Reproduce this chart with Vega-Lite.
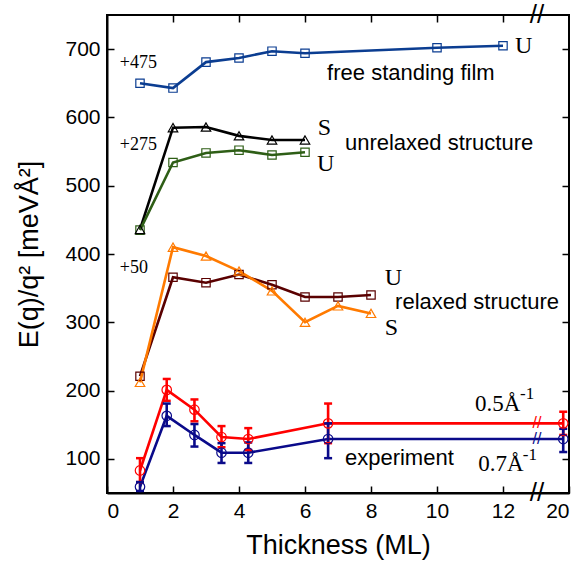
{
  "$schema": "https://vega.github.io/schema/vega-lite/v6.json",
  "width": 462,
  "height": 478,
  "autosize": "none",
  "padding": {"left": 107, "top": 15, "right": 13, "bottom": 73},
  "background": "white",
  "config": {
    "view": {"stroke": "black", "strokeWidth": 2},
    "font": "Liberation Sans",
    "axis": {"grid": false, "domainColor": "black", "domainWidth": 2, "tickColor": "black", "tickWidth": 1.5, "labelColor": "black", "titleColor": "black", "labelFont": "Liberation Sans", "titleFont": "Liberation Sans", "titleFontWeight": "normal"}
  },
  "datasets": {
    "curves": [
      {"series": "film", "x": 1, "y": 650},
      {"series": "film", "x": 2, "y": 643},
      {"series": "film", "x": 3, "y": 681},
      {"series": "film", "x": 4, "y": 687},
      {"series": "film", "x": 5, "y": 697},
      {"series": "film", "x": 6, "y": 694},
      {"series": "film", "x": 10, "y": 702},
      {"series": "film", "x": 12, "y": 705},
      {"series": "unrelS", "x": 1, "y": 436},
      {"series": "unrelS", "x": 2, "y": 585},
      {"series": "unrelS", "x": 3, "y": 586},
      {"series": "unrelS", "x": 4, "y": 573},
      {"series": "unrelS", "x": 5, "y": 567},
      {"series": "unrelS", "x": 6, "y": 567},
      {"series": "unrelU", "x": 1, "y": 435},
      {"series": "unrelU", "x": 2, "y": 534},
      {"series": "unrelU", "x": 3, "y": 548},
      {"series": "unrelU", "x": 4, "y": 552},
      {"series": "unrelU", "x": 5, "y": 545},
      {"series": "unrelU", "x": 6, "y": 549},
      {"series": "relU", "x": 1, "y": 221},
      {"series": "relU", "x": 2, "y": 366},
      {"series": "relU", "x": 3, "y": 358},
      {"series": "relU", "x": 4, "y": 370},
      {"series": "relU", "x": 5, "y": 355},
      {"series": "relU", "x": 6, "y": 337},
      {"series": "relU", "x": 7, "y": 337},
      {"series": "relU", "x": 8, "y": 340},
      {"series": "relS", "x": 1, "y": 212},
      {"series": "relS", "x": 2, "y": 410},
      {"series": "relS", "x": 3, "y": 397},
      {"series": "relS", "x": 4, "y": 375},
      {"series": "relS", "x": 5, "y": 346},
      {"series": "relS", "x": 6, "y": 300},
      {"series": "relS", "x": 7, "y": 324},
      {"series": "relS", "x": 8, "y": 313}
    ],
    "exp": [
      {"series": "q05", "x": 1, "y": 83, "lo": 66, "hi": 101},
      {"series": "q05", "x": 1.81, "y": 201, "lo": 185, "hi": 217},
      {"series": "q05", "x": 2.65, "y": 172, "lo": 155, "hi": 187},
      {"series": "q05", "x": 3.47, "y": 132, "lo": 117, "hi": 148},
      {"series": "q05", "x": 4.28, "y": 129, "lo": 113, "hi": 145},
      {"series": "q05", "x": 6.7, "y": 152, "lo": 123, "hi": 181},
      {"series": "q05", "x": 19.3, "y": 152, "lo": 135, "hi": 169},
      {"series": "q07", "x": 1, "y": 59, "lo": 53, "hi": 66},
      {"series": "q07", "x": 1.81, "y": 163, "lo": 148, "hi": 181},
      {"series": "q07", "x": 2.65, "y": 135, "lo": 118, "hi": 151},
      {"series": "q07", "x": 3.47, "y": 109, "lo": 94, "hi": 123},
      {"series": "q07", "x": 4.28, "y": 109, "lo": 94, "hi": 124},
      {"series": "q07", "x": 6.7, "y": 129, "lo": 101, "hi": 152},
      {"series": "q07", "x": 19.3, "y": 129, "lo": 110, "hi": 144}
    ],
    "serifBig": [
      {"x": 13.45, "y": 704, "text": "U"},
      {"x": 6.39, "y": 584, "text": "S"},
      {"x": 6.36, "y": 532, "text": "U"},
      {"x": 8.42, "y": 365, "text": "U"},
      {"x": 8.42, "y": 292, "text": "S"}
    ],
    "serifMid": [
      {"x": 11.15, "y": 180, "text": "0.5Å"},
      {"x": 11.25, "y": 93, "text": "0.7Å"}
    ],
    "serifSmall": [
      {"x": 0.39, "y": 680, "text": "+475"},
      {"x": 0.39, "y": 560, "text": "+275"},
      {"x": 0.39, "y": 380, "text": "+50"}
    ],
    "sup": [
      {"x": 14.06, "y": 195, "text": "-1"},
      {"x": 14.4, "y": 106, "text": "-1"}
    ],
    "sans": [
      {"x": 6.67, "y": 665, "text": "free standing film"},
      {"x": 7.21, "y": 562, "text": "unrelaxed structure"},
      {"x": 8.73, "y": 329, "text": "relaxed structure"},
      {"x": 7.21, "y": 101, "text": "experiment"}
    ],
    "breaks": [
      {"x": 16.12, "y": 750},
      {"x": 16.12, "y": 50}
    ],
    "lineBreaks": [
      {"series": "q05", "x": 16.12, "y": 152},
      {"series": "q07", "x": 16.12, "y": 129}
    ]
  },
  "layer": [
    {
      "layer": [
        {
          "data": {"name": "curves"},
          "mark": {"type": "line", "strokeWidth": 2.6},
          "encoding": {
            "x": {"field": "x", "type": "quantitative", "scale": {"domain": [0, 12, 20], "range": [0, 396, 462], "nice": false, "zero": false},
              "axis": {"values": [0, 2, 4, 6, 8, 10, 12, 20], "title": "Thickness (ML)", "labelFontSize": 21, "titleFontSize": 27, "tickSize": -7, "labelPadding": 14, "titlePadding": 11, "format": "d"}},
            "y": {"field": "y", "type": "quantitative", "scale": {"domain": [50, 750], "nice": false, "zero": false},
              "axis": {"values": [100, 200, 300, 400, 500, 600, 700], "title": "E(q)/q² [meVÅ²]", "labelFontSize": 21, "titleFontSize": 27, "tickSize": -7, "labelPadding": 14, "titlePadding": 21}},
            "color": {"field": "series", "type": "nominal", "legend": null,
              "scale": {"domain": ["film", "unrelS", "unrelU", "relU", "relS", "q05", "q07"], "range": ["#0b3d91", "#000000", "#2e5e16", "#5a0000", "#ff7a00", "#ff0000", "#0a0a8a"]}}
          }
        },
        {
          "data": {"name": "curves"},
          "transform": [{"filter": "datum.series === 'film' || datum.series === 'unrelU' || datum.series === 'relU'"}],
          "mark": {"type": "point", "shape": "square", "filled": false, "size": 70, "strokeWidth": 1.2, "opacity": 1},
          "encoding": {
            "x": {"field": "x", "type": "quantitative"},
            "y": {"field": "y", "type": "quantitative"},
            "color": {"field": "series", "type": "nominal", "legend": null}
          }
        },
        {
          "data": {"name": "curves"},
          "transform": [{"filter": "datum.series === 'unrelS' || datum.series === 'relS'"}],
          "mark": {"type": "point", "shape": "triangle-up", "filled": false, "size": 90, "strokeWidth": 1.2, "opacity": 1},
          "encoding": {
            "x": {"field": "x", "type": "quantitative"},
            "y": {"field": "y", "type": "quantitative"},
            "color": {"field": "series", "type": "nominal", "legend": null}
          }
        },
        {
          "data": {"name": "exp"},
          "mark": {"type": "line", "strokeWidth": 2.6},
          "encoding": {
            "x": {"field": "x", "type": "quantitative"},
            "y": {"field": "y", "type": "quantitative"},
            "color": {"field": "series", "type": "nominal", "legend": null}
          }
        },
        {
          "data": {"name": "exp"},
          "mark": {"type": "rule", "strokeWidth": 2.6},
          "encoding": {
            "x": {"field": "x", "type": "quantitative"},
            "y": {"field": "lo", "type": "quantitative"},
            "y2": {"field": "hi"},
            "color": {"field": "series", "type": "nominal", "legend": null}
          }
        },
        {
          "data": {"name": "exp"},
          "mark": {"type": "tick", "orient": "horizontal", "size": 8, "thickness": 2.5, "opacity": 1},
          "encoding": {
            "x": {"field": "x", "type": "quantitative"},
            "y": {"field": "lo", "type": "quantitative"},
            "color": {"field": "series", "type": "nominal", "legend": null}
          }
        },
        {
          "data": {"name": "exp"},
          "mark": {"type": "tick", "orient": "horizontal", "size": 8, "thickness": 2.5, "opacity": 1},
          "encoding": {
            "x": {"field": "x", "type": "quantitative"},
            "y": {"field": "hi", "type": "quantitative"},
            "color": {"field": "series", "type": "nominal", "legend": null}
          }
        },
        {
          "data": {"name": "exp"},
          "mark": {"type": "point", "shape": "circle", "filled": false, "size": 90, "strokeWidth": 1.2, "opacity": 1},
          "encoding": {
            "x": {"field": "x", "type": "quantitative"},
            "y": {"field": "y", "type": "quantitative"},
            "color": {"field": "series", "type": "nominal", "legend": null}
          }
        },
        {
          "data": {"name": "lineBreaks"},
          "mark": {"type": "text", "font": "Liberation Sans", "fontSize": 16, "align": "center", "baseline": "middle"},
          "encoding": {
            "x": {"field": "x", "type": "quantitative"},
            "y": {"field": "y", "type": "quantitative"},
            "text": {"value": "//"},
            "color": {"field": "series", "type": "nominal", "legend": null}
          }
        },
        {
          "data": {"name": "breaks"},
          "mark": {"type": "text", "font": "Liberation Sans", "fontSize": 26, "align": "center", "baseline": "middle", "color": "black"},
          "encoding": {
            "x": {"field": "x", "type": "quantitative"},
            "y": {"field": "y", "type": "quantitative"},
            "text": {"value": "//"}
          }
        },
        {
          "data": {"name": "serifBig"},
          "mark": {"type": "text", "font": "Liberation Serif", "fontSize": 24, "align": "left", "baseline": "middle", "color": "black"},
          "encoding": {
            "x": {"field": "x", "type": "quantitative"},
            "y": {"field": "y", "type": "quantitative"},
            "text": {"field": "text"}
          }
        },
        {
          "data": {"name": "serifMid"},
          "mark": {"type": "text", "font": "Liberation Serif", "fontSize": 23, "align": "left", "baseline": "middle", "color": "black"},
          "encoding": {
            "x": {"field": "x", "type": "quantitative"},
            "y": {"field": "y", "type": "quantitative"},
            "text": {"field": "text"}
          }
        },
        {
          "data": {"name": "serifSmall"},
          "mark": {"type": "text", "font": "Liberation Serif", "fontSize": 18, "align": "left", "baseline": "middle", "color": "black"},
          "encoding": {
            "x": {"field": "x", "type": "quantitative"},
            "y": {"field": "y", "type": "quantitative"},
            "text": {"field": "text"}
          }
        },
        {
          "data": {"name": "sup"},
          "mark": {"type": "text", "font": "Liberation Serif", "fontSize": 17, "align": "left", "baseline": "middle", "color": "black"},
          "encoding": {
            "x": {"field": "x", "type": "quantitative"},
            "y": {"field": "y", "type": "quantitative"},
            "text": {"field": "text"}
          }
        },
        {
          "data": {"name": "sans"},
          "mark": {"type": "text", "font": "Liberation Sans", "fontSize": 22, "align": "left", "baseline": "middle", "color": "black"},
          "encoding": {
            "x": {"field": "x", "type": "quantitative"},
            "y": {"field": "y", "type": "quantitative"},
            "text": {"field": "text"}
          }
        }
      ]
    },
    {
      "data": {"name": "breaks"},
      "mark": {"type": "point", "opacity": 0},
      "encoding": {
        "x": {"field": "x", "type": "quantitative", "scale": {"domain": [0, 12, 20], "range": [0, 396, 462], "nice": false, "zero": false},
          "axis": {"orient": "top", "values": [2, 4, 6, 8, 10, 12], "labels": false, "title": null, "tickSize": -7, "domain": false}},
        "y": {"field": "y", "type": "quantitative", "scale": {"domain": [50, 750], "nice": false, "zero": false},
          "axis": {"orient": "right", "values": [100, 200, 300, 400, 500, 600, 700], "labels": false, "title": null, "tickSize": -7, "domain": false}}
      }
    }
  ],
  "resolve": {"scale": {"x": "independent", "y": "independent"}}
}
